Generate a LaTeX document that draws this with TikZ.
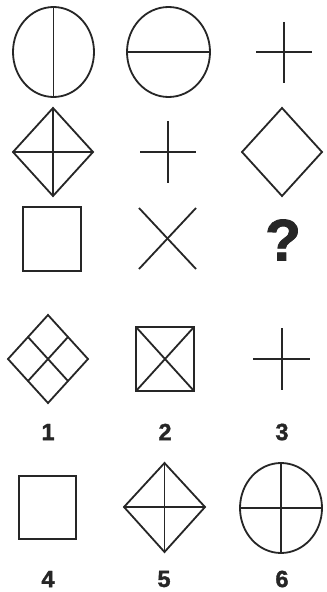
\documentclass[tikz,border=0pt]{standalone}
\usepackage{fontspec}
\setmainfont{Liberation Sans}
\newfontfamily\heavyfont{Liberation Sans}[BoldFeatures={FakeBold=1.6}]
\begin{document}
\begin{tikzpicture}[x=0.03cm, y=-0.03cm]
    % Define colours
    \definecolor{lineColour}{HTML}{262626}

    % Define styles
    \tikzset{
        figline/.style={draw=lineColour, line width=1.55pt},
        answerlabel/.style={font=\heavyfont\bfseries\fontsize{20}{20}\selectfont, text=lineColour, inner sep=0pt}
    }

    % Fix page size
    \useasboundingbox (0,0) rectangle (326,592);

    % Row 1: circle with vertical line, circle with horizontal line, cross
    \draw[figline] (53.5,52) ellipse [x radius=40.5, y radius=45];
    \draw[figline] (53.5,7) -- (53.5,97);
    \draw[figline] (168.5,52) ellipse [x radius=41.5, y radius=45];
    \draw[figline] (127,52) -- (210,52);
    \draw[figline] (256,52) -- (312,52);
    \draw[figline] (284,22) -- (284,83);

    % Row 2: diamond with cross, cross, diamond
    \draw[figline] (53,108) -- (93,152) -- (53,196) -- (13,152) -- cycle;
    \draw[figline] (13,152) -- (93,152);
    \draw[figline] (53,108) -- (53,196);
    \draw[figline] (140,152) -- (196,152);
    \draw[figline] (168,121) -- (168,183);
    \draw[figline] (282,108) -- (322,152) -- (282,196) -- (242,152) -- cycle;

    % Row 3: square, X, question mark
    \draw[figline] (23,207) rectangle (81,271);
    \draw[figline] (139,208) -- (196,269);
    \draw[figline] (139,269) -- (196,208);
    \node[font=\heavyfont\bfseries\fontsize{50}{50}\selectfont, text=lineColour, inner sep=0pt] (qmark) at (283,240) {?};

    % Answers 1-3
    \draw[figline] (48,315) -- (88,359) -- (48,403) -- (8,359) -- cycle;
    \draw[figline] (28,337) -- (68,381);
    \draw[figline] (68,337) -- (28,381);
    \draw[figline] (136,327) rectangle (194,391);
    \draw[figline] (136,327) -- (194,391);
    \draw[figline] (136,391) -- (194,327);
    \draw[figline] (253,359) -- (310,359);
    \draw[figline] (282,328) -- (282,390);

    % Answers 4-6
    \draw[figline] (19,476) rectangle (76,539);
    \draw[figline] (164.5,463) -- (205,507) -- (164.5,552) -- (124,507) -- cycle;
    \draw[figline] (124,507) -- (205,507);
    \draw[figline] (164.5,463) -- (164.5,552);
    \draw[figline] (281,508) ellipse [x radius=41, y radius=45];
    \draw[figline] (240,508) -- (322,508);
    \draw[figline] (281,463) -- (281,553);

    % Label the answers
    \node[answerlabel] (lab1) at (48,432) {1};
    \node[answerlabel] (lab2) at (165,432) {2};
    \node[answerlabel] (lab3) at (282,432) {3};
    \node[answerlabel] (lab4) at (48,579) {4};
    \node[answerlabel] (lab5) at (164,579) {5};
    \node[answerlabel] (lab6) at (282,579) {6};

\end{tikzpicture}
\end{document}
